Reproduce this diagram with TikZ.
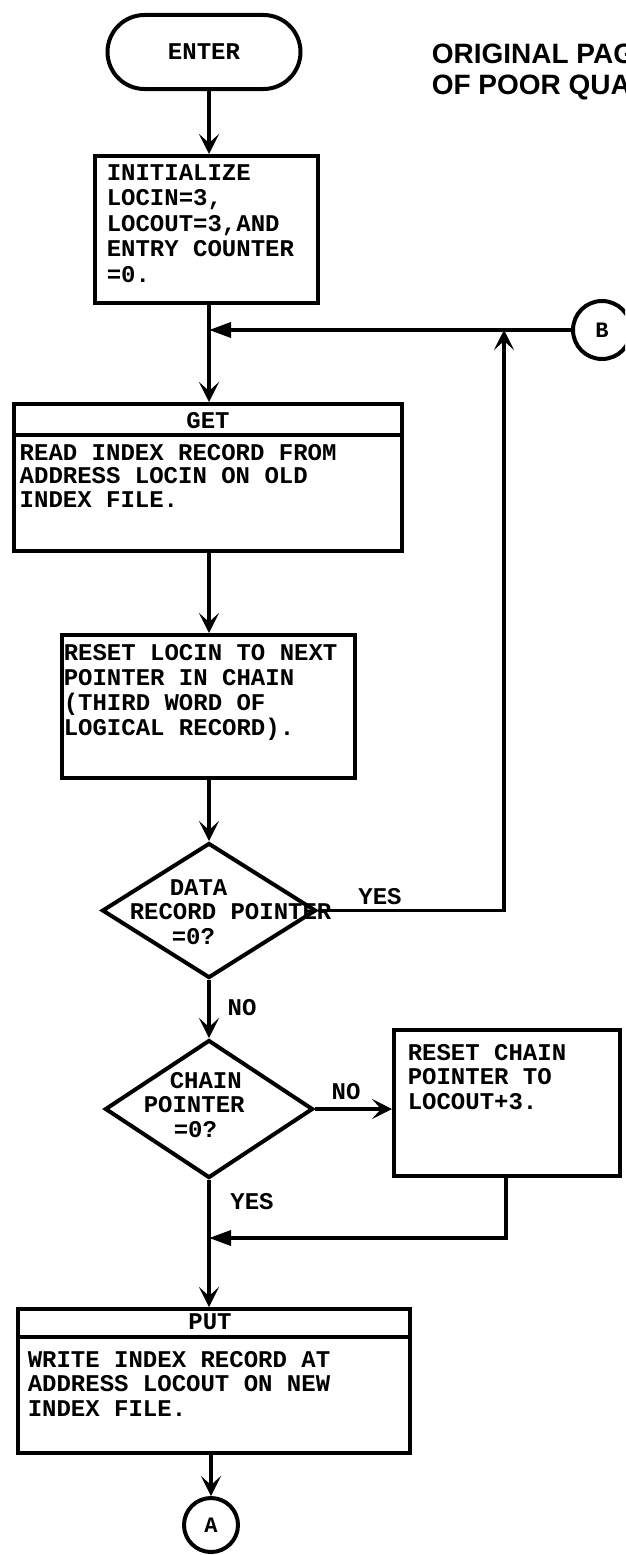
\documentclass[tikz,border=0pt]{standalone}
\usepackage{fontspec}
\setmonofont{Liberation Mono}
\setsansfont{Liberation Sans}
\usetikzlibrary{arrows.meta,shapes.geometric}
\begin{document}
\begin{tikzpicture}[x=1pt,y=-1pt,
  line width=3.5pt,
  every node/.style={inner sep=0pt},
  txt/.style={font=\ttfamily\bfseries\fontsize{24}{24.5}\selectfont, align=left, anchor=base west},
  ctxt/.style={font=\ttfamily\bfseries\fontsize{24}{24.5}\selectfont},
  box/.style={draw, rectangle, line width=4pt},
  dia/.style={draw, diamond, line width=4pt},
  conn/.style={draw, circle, line width=4pt, font=\ttfamily\bfseries\fontsize{22}{22}\selectfont},
  arr/.style={-{Stealth[length=20pt,width=20pt,inset=9pt]}},
  junc/.style={-{Triangle[length=22pt,width=15pt]}}
]
\useasboundingbox (0,0) rectangle (625,1555);
\clip (0,0) rectangle (625,1555);
\fill[white] (0,0) rectangle (625,1555);
\coordinate (mx) at (209,0);

% stamp text
\node[anchor=base west, align=left, font=\sffamily\bfseries\fontsize{28}{32}\selectfont] (orig) at (430,95) {ORIGINAL PAGE IS\\OF POOR QUALITY};

% ENTER
\node[draw, rectangle, rounded corners=37pt, line width=4pt, minimum width=193, minimum height=74, ctxt] (enter) at (204,52) {ENTER};

% init box
\node[box, minimum width=223, minimum height=147] (init) at (206.5,229.5) {};
\node[txt, font=\ttfamily\bfseries\fontsize{24}{25.5}\selectfont] (initT) at (105,282) {INITIALIZE\\LOCIN=3,\\LOCOUT=3,AND\\ENTRY COUNTER\\=0.};

% B connector
\node[conn, minimum size=58] (B) at (602,330) {B};

% GET box
\node[box, minimum width=388, minimum height=147] (get) at (208,477.5) {};
\draw[line width=4pt] (get.west |- 0,435) -- (get.east |- 0,435);
\node[ctxt] (getH) at (208,421) {GET};
\node[txt, font=\ttfamily\bfseries\fontsize{24}{23.5}\selectfont] (getT) at (18,507) {READ INDEX RECORD FROM\\ADDRESS LOCIN ON OLD\\INDEX FILE.};

% reset box
\node[box, minimum width=293, minimum height=143] (reset) at (208.5,706.5) {};
\node[txt, font=\ttfamily\bfseries\fontsize{24}{25}\selectfont] (resetT) at (62,735) {RESET LOCIN TO NEXT\\POINTER IN CHAIN\\(THIRD WORD OF\\LOGICAL RECORD).};

% decision 1
\node[dia, minimum width=214, minimum height=135] (d1) at (209,910.5) {};
\node[txt] (d1T) at (128,944) {\hspace*{40pt}DATA\\RECORD POINTER\\\hspace*{42pt}=0?};

% decision 2
\node[dia, minimum width=208, minimum height=138] (d2) at (209,1109) {};
\node[txt] (d2T) at (142,1137) {\hspace*{26pt}CHAIN\\POINTER\\\hspace*{30pt}=0?};

% chain box
\node[box, minimum width=226, minimum height=146] (chain) at (507,1103) {};
\node[txt] (chainT) at (406,1109) {RESET CHAIN\\POINTER TO\\LOCOUT+3.};

% PUT box
\node[box, minimum width=392, minimum height=144] (put) at (214,1381) {};
\draw[line width=4pt] (put.west |- 0,1337) -- (put.east |- 0,1337);
\node[ctxt] (putH) at (210,1322) {PUT};
\node[txt] (putT) at (26,1416) {WRITE INDEX RECORD AT\\ADDRESS LOCOUT ON NEW\\INDEX FILE.};

% A connector
\node[conn, minimum size=54] (A) at (211,1525) {A};

% labels
\node[ctxt] (yes1) at (380,897) {YES};
\node[ctxt] (no1) at (242,1008) {NO};
\node[ctxt] (no2) at (346,1092) {NO};
\node[ctxt] (yes2) at (252,1202) {YES};

% connectors
\coordinate (yj) at (504,330);
\coordinate (rj) at (506,1238);
\draw[arr] (enter.south -| mx) -- (init.north -| mx);
\draw[arr] (init.south -| mx) -- (get.north -| mx);
\draw[junc] (B.west) -- (B.west -| mx);
\draw[arr] (get.south -| mx) -- (reset.north -| mx);
\draw[arr] (reset.south -| mx) -- (d1.north);
\draw[arr] (d1.east) -| (yj);
\draw[arr] (d1.south) -- (d2.north);
\draw[arr] (d2.east) -- (d2.east -| chain.west);
\draw[junc] (chain.south -| rj) |- (rj -| mx);
\draw[arr] (d2.south) -- (put.north -| mx);
\draw[arr] (put.south -| A) -- (A.north);
\end{tikzpicture}
\end{document}
